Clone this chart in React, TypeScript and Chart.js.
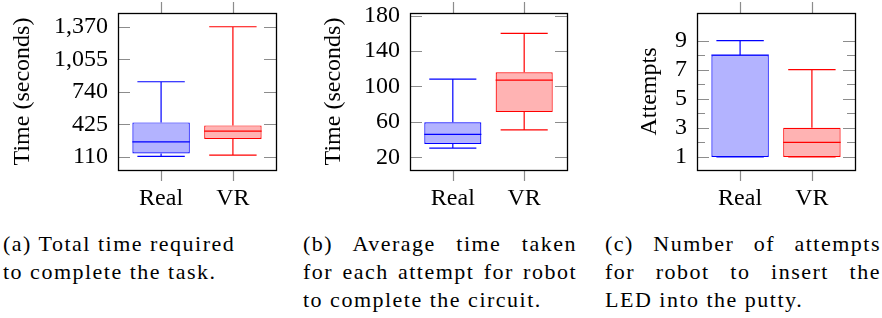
import React, { useEffect, useRef } from 'react';
import { Chart, registerables } from 'chart.js';

Chart.register(...registerables);

const categories = ['Real', 'VR'];
// Box statistics: [min, lower quartile, median, upper quartile, max]
const totalTimeReal = [114, 143, 255, 443, 837];
const totalTimeVR = [126, 282, 359, 414, 1370];
const avgTimeReal = [30.3, 34.9, 45.8, 59.5, 108.3];
const avgTimeVR = [50.9, 71, 107.2, 116, 160];
const attemptsReal = [1, 1, 8, 8, 9];
const attemptsVR = [1, 1, 2, 3, 7];

const totalTimeTicks = [110, 425, 740, 1055, 1370];
const avgTimeTicks = [20, 60, 100, 140, 180];
const attemptsTicks = [1, 3, 5, 7, 9];
const attemptsMinorTicks = [2, 4, 6, 8];

const FONT = "'Liberation Serif', 'Times New Roman', serif";
const FILLS = ['rgb(179,179,255)', 'rgb(255,179,179)'];
const STROKES = ['rgb(0,0,255)', 'rgb(255,0,0)'];
const AXIS_FONT_SIZE = 24;

const boxPlugin = {
  id: 'boxplot',
  beforeDatasetsDraw(chart: any, _args: any, opts: any) {
    const { ctx, chartArea: ca, scales } = chart;
    const y = scales.y;
    const x = scales.x;
    ctx.save();
    ctx.strokeStyle = 'rgb(140,140,140)';
    ctx.lineWidth = 1.2;
    const drawY = (v: number, len: number) => {
      const py = Math.round(y.getPixelForValue(v)) + 0.5;
      ctx.beginPath();
      ctx.moveTo(ca.left, py);
      ctx.lineTo(ca.left + len, py);
      ctx.moveTo(ca.right, py);
      ctx.lineTo(ca.right - len, py);
      ctx.stroke();
    };
    (opts.ticks || []).forEach((v: number) => drawY(v, 12));
    (opts.minor || []).forEach((v: number) => drawY(v, 8));
    categories.forEach((_c, i) => {
      const px = Math.round(x.getPixelForValue(i + 1)) + 0.5;
      ctx.beginPath();
      ctx.moveTo(px, ca.bottom);
      ctx.lineTo(px, ca.bottom + 11);
      ctx.moveTo(px, ca.top);
      ctx.lineTo(px, ca.top - 11);
      ctx.stroke();
    });
    ctx.restore();
  },
  afterDatasetsDraw(chart: any, _args: any, opts: any) {
    const { ctx, scales } = chart;
    const y = scales.y;
    const x = scales.x;
    const meta = chart.getDatasetMeta(0);
    const stats: number[][] = opts.stats;
    stats.forEach((s, i) => {
      const bar: any = meta.data[i];
      const cx = bar.x;
      const half = bar.width / 2;
      const capHalf = (x.getPixelForValue(i + 1 + 0.33) - x.getPixelForValue(i + 1 - 0.33)) / 2;
      const py = (v: number) => y.getPixelForValue(v);
      ctx.save();
      ctx.strokeStyle = STROKES[i];
      ctx.lineWidth = 1.2;
      ctx.beginPath();
      // median
      ctx.moveTo(cx - half, py(s[2]));
      ctx.lineTo(cx + half, py(s[2]));
      // upper whisker
      ctx.moveTo(cx, py(s[3]));
      ctx.lineTo(cx, py(s[4]));
      ctx.moveTo(cx - capHalf, py(s[4]));
      ctx.lineTo(cx + capHalf, py(s[4]));
      // lower whisker
      ctx.moveTo(cx, py(s[1]));
      ctx.lineTo(cx, py(s[0]));
      ctx.moveTo(cx - capHalf, py(s[0]));
      ctx.lineTo(cx + capHalf, py(s[0]));
      ctx.stroke();
      ctx.restore();
    });
  },
  afterDraw(chart: any) {
    const { ctx, chartArea: ca } = chart;
    ctx.save();
    ctx.strokeStyle = '#000';
    ctx.lineWidth = 1.3;
    ctx.strokeRect(Math.round(ca.left) + 0.5, Math.round(ca.top) + 0.5, Math.round(ca.width), Math.round(ca.height));
    ctx.restore();
  },
};

type BoxProps = {
  left: number;
  width: number;
  height: number;
  yAxisWidth: number;
  padRight: number;
  titlePad: number;
  title: string;
  stats: number[][];
  yMin: number;
  yMax: number;
  ticks: number[];
  minor?: number[];
  format: (v: number) => string;
};

function BoxChart(p: BoxProps) {
  const ref = useRef<HTMLCanvasElement | null>(null);
  useEffect(() => {
    if (!ref.current) return;
    const chart = new Chart(ref.current, {
      type: 'bar',
      data: {
        datasets: [
          {
            data: p.stats.map((s, i) => ({ x: i + 1, y: [s[1], s[3]] })) as any,
            backgroundColor: FILLS,
            borderColor: STROKES,
            borderWidth: 1.2,
            borderSkipped: false,
            barPercentage: 0.8,
            categoryPercentage: 1,
          },
        ],
      },
      options: {
        responsive: false,
        animation: false,
        events: [],
        layout: { padding: { top: 13, right: p.padRight, left: 0, bottom: 0 } },
        plugins: {
          legend: { display: false },
          tooltip: { enabled: false },
          boxplot: { stats: p.stats, ticks: p.ticks, minor: p.minor || [] },
        } as any,
        scales: {
          x: {
            type: 'linear',
            min: 0.4,
            max: 2.6,
            offset: false,
            grid: { display: false, drawTicks: false },
            border: { display: false },
            afterBuildTicks: (scale: any) => {
              scale.ticks = categories.map((_c, i) => ({ value: i + 1 }));
            },
            afterFit: (scale: any) => {
              scale.height = p.height - 170;
              scale.paddingLeft = 0;
              scale.paddingRight = 0;
            },
            ticks: {
              autoSkip: false,
              maxRotation: 0,
              padding: 14,
              color: '#000',
              font: { family: FONT, size: AXIS_FONT_SIZE },
              callback: (v: any) => categories[Math.round(Number(v)) - 1] ?? '',
            },
          },
          y: {
            type: 'linear',
            min: p.yMin,
            max: p.yMax,
            grid: { display: false, drawTicks: false },
            border: { display: false },
            afterBuildTicks: (scale: any) => {
              scale.ticks = p.ticks.map((v) => ({ value: v }));
            },
            afterFit: (scale: any) => {
              scale.width = p.yAxisWidth;
              scale.paddingTop = 0;
              scale.paddingBottom = 0;
            },
            title: {
              display: true,
              text: p.title,
              color: '#000',
              font: { family: FONT, size: AXIS_FONT_SIZE },
              padding: { top: p.titlePad, bottom: 0 },
            },
            ticks: {
              autoSkip: false,
              padding: 10,
              color: '#000',
              font: { family: FONT, size: AXIS_FONT_SIZE },
              callback: (v: any) => p.format(Number(v)),
            },
          },
        },
      },
      plugins: [boxPlugin],
    });
    return () => chart.destroy();
  }, []);
  return (
    <canvas
      ref={ref}
      width={p.width}
      height={p.height}
      style={{ position: 'absolute', left: p.left, top: 0, width: p.width, height: p.height }}
    />
  );
}

const captionStyle: React.CSSProperties = {
  position: 'absolute',
  fontFamily: FONT,
  fontSize: 22,
  lineHeight: '28px',
  letterSpacing: '1.5px',
  color: '#000',
  whiteSpace: 'nowrap',
};

function Caption({ left, width, lines, justify }: { left: number; width: number; lines: string[]; justify: boolean }) {
  return (
    <div style={{ ...captionStyle, left, top: 230, width }}>
      {lines.map((l, i) => {
        const just = justify && i < lines.length - 1;
        return (
          <div
            key={i}
            style={{
              whiteSpace: just ? 'normal' : 'nowrap',
              textAlign: just ? 'justify' : 'left',
              textAlignLast: just ? 'justify' : 'left',
              width,
            } as any}
          >
            {l}
          </div>
        );
      })}
    </div>
  );
}

export default function App() {
  const fmt = (v: number) => v.toLocaleString('en-US');
  return (
    <div style={{ position: 'absolute', left: 0, top: 0, width: 882, height: 318, background: '#fff', overflow: 'hidden' }}>
      <BoxChart
        left={0}
        width={290}
        height={215}
        yAxisWidth={118}
        padRight={14}
        titlePad={8}
        title="Time (seconds)"
        stats={[totalTimeReal, totalTimeVR]}
        yMin={-18}
        yMax={1503}
        ticks={totalTimeTicks}
        format={fmt}
      />
      <BoxChart
        left={290}
        width={290}
        height={215}
        yAxisWidth={120}
        padRight={13}
        titlePad={29}
        title="Time (seconds)"
        stats={[avgTimeReal, avgTimeVR]}
        yMin={5.6}
        yMax={183}
        ticks={avgTimeTicks}
        format={fmt}
      />
      <BoxChart
        left={580}
        width={302}
        height={215}
        yAxisWidth={117}
        padRight={27}
        titlePad={55}
        title="Attempts"
        stats={[attemptsReal, attemptsVR]}
        yMin={0.1}
        yMax={10.9}
        ticks={attemptsTicks}
        minor={attemptsMinorTicks}
        format={fmt}
      />
      <Caption left={3} width={260} justify={false} lines={['(a) Total time required', 'to complete the task.']} />
      <Caption
        left={303}
        width={274}
        justify={true}
        lines={['(b) Average time taken', 'for each attempt for robot', 'to complete the circuit.']}
      />
      <Caption
        left={605}
        width={276}
        justify={true}
        lines={['(c) Number of attempts', 'for robot to insert the', 'LED into the putty.']}
      />
    </div>
  );
}
